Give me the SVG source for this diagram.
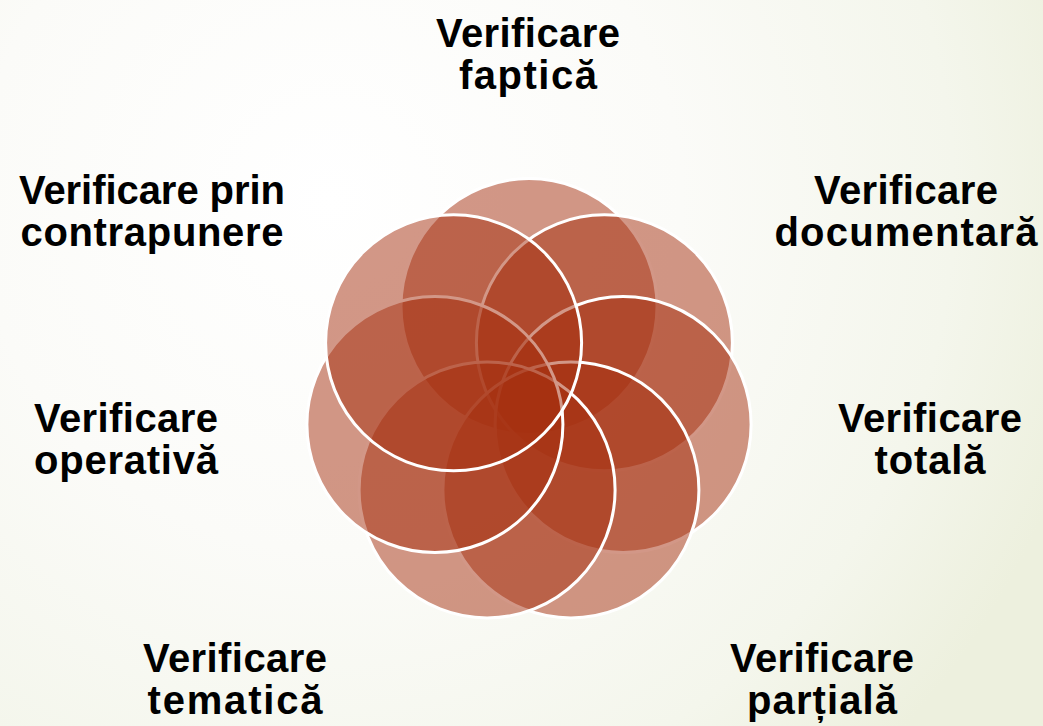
<svg xmlns="http://www.w3.org/2000/svg" width="1043" height="726" viewBox="0 0 1043 726">
  <defs>
    <radialGradient id="bg" gradientUnits="userSpaceOnUse" cx="330" cy="200" r="780">
      <stop offset="0" stop-color="#ffffff"/>
      <stop offset="0.45" stop-color="#fbfbf8"/>
      <stop offset="0.8" stop-color="#f4f6ec"/>
      <stop offset="1" stop-color="#edf0de"/>
    </radialGradient>
  </defs>
  <style>
    .c { fill: #a5300f; fill-opacity: 0.5; stroke: #ffffff; stroke-width: 3; }
    .t { font-family: "Liberation Sans", Arial, sans-serif; font-weight: bold; font-size: 40px; fill: #000000; text-anchor: middle; }
  </style>
  <rect x="0" y="0" width="1043" height="726" fill="url(#bg)"/>
  <g id="node-faptica">
    <circle class="c" cx="529" cy="306.5" r="128"/>
    <text class="t" x="528" y="47" textLength="184" lengthAdjust="spacing">Verificare</text>
    <text class="t" x="528" y="89" textLength="138" lengthAdjust="spacing">faptică</text>
  </g>
  <g id="node-documentara">
    <circle class="c" cx="604.4" cy="342.8" r="128"/>
    <text class="t" x="906" y="204" textLength="184" lengthAdjust="spacing">Verificare</text>
    <text class="t" x="906" y="246" textLength="263" lengthAdjust="spacing">documentară</text>
  </g>
  <g id="node-totala">
    <circle class="c" cx="623.1" cy="424.5" r="128"/>
    <text class="t" x="930" y="432" textLength="184" lengthAdjust="spacing">Verificare</text>
    <text class="t" x="930" y="474" textLength="111" lengthAdjust="spacing">totală</text>
  </g>
  <g id="node-partiala">
    <circle class="c" cx="570.9" cy="489.9" r="128"/>
    <text class="t" x="822" y="672" textLength="184" lengthAdjust="spacing">Verificare</text>
    <text class="t" x="822" y="714" textLength="150" lengthAdjust="spacing">parțială</text>
  </g>
  <g id="node-tematica">
    <circle class="c" cx="487.1" cy="489.9" r="128"/>
    <text class="t" x="235" y="672" textLength="184" lengthAdjust="spacing">Verificare</text>
    <text class="t" x="235" y="714" textLength="175" lengthAdjust="spacing">tematică</text>
  </g>
  <g id="node-operativa">
    <circle class="c" cx="434.9" cy="424.5" r="128"/>
    <text class="t" x="126" y="432" textLength="184" lengthAdjust="spacing">Verificare</text>
    <text class="t" x="126" y="474" textLength="184" lengthAdjust="spacing">operativă</text>
  </g>
  <g id="node-contrapunere">
    <circle class="c" cx="453.6" cy="342.8" r="128"/>
    <text class="t" x="152" y="204" textLength="266" lengthAdjust="spacing">Verificare prin</text>
    <text class="t" x="152" y="246" textLength="263" lengthAdjust="spacing">contrapunere</text>
  </g>
</svg>
